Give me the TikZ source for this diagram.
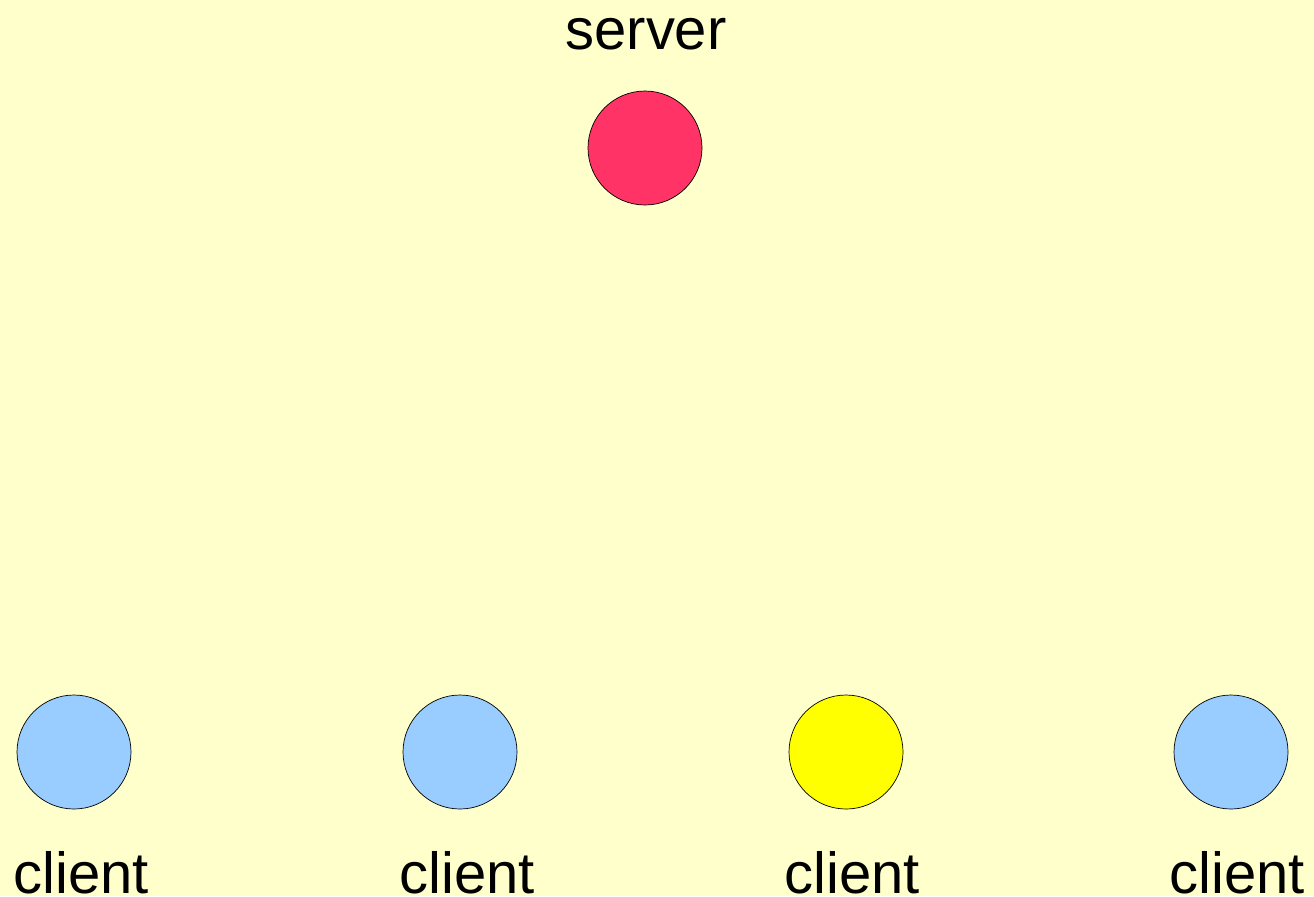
\documentclass[tikz,border=0pt]{standalone}
\usepackage{fontspec}
\setmainfont{Liberation Sans}
\usepackage{tikz}
\definecolor{paper}{HTML}{FFFFCC}
\definecolor{serverred}{HTML}{FF3366}
\definecolor{clientblue}{HTML}{99CCFF}
\definecolor{clientyellow}{HTML}{FFFF00}
\tikzset{
	host/.style={circle, draw=black, line width=0.4pt, inner sep=0pt, minimum size=2.28cm},
	hostlabel/.style={anchor=base, inner sep=0pt, font=\fontsize{33}{40}\selectfont}
}

\begin{document}
\begin{tikzpicture}
		%%%%% START %%%%%
		
		\fill[color=paper] (0, 0) rectangle (26.28, -17.92);
		\useasboundingbox (0, 0) rectangle (26.28, -17.92);
		
		\node[host, fill=serverred] (server) at (12.9, -2.96) {};
		\node[hostlabel] (serverlabel) at (12.92, -0.98) {server};
		
		\node[host, fill=clientblue] (clientA) at (1.48, -15.04) {};
		\node[host, fill=clientblue] (clientB) at (9.2, -15.04) {};
		\node[host, fill=clientyellow] (clientC) at (16.92, -15.04) {};
		\node[host, fill=clientblue] (clientD) at (24.62, -15.04) {};
		
		\node[hostlabel] (clientlabelA) at (1.62, -17.87) {client};
		\node[hostlabel] (clientlabelB) at (9.34, -17.87) {client};
		\node[hostlabel] (clientlabelC) at (17.04, -17.87) {client};
		\node[hostlabel] (clientlabelD) at (24.74, -17.87) {client};
		
		%%%%% END %%%%%
	\end{tikzpicture}
\end{document}
